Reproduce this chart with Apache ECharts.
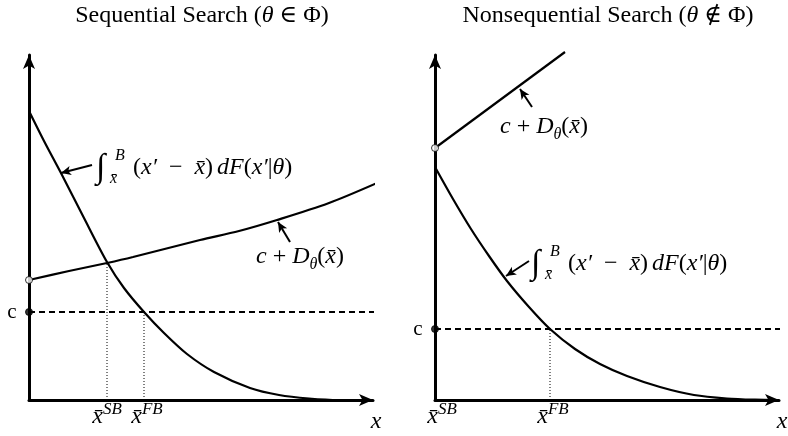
<!DOCTYPE html>
<html>
<head>
<meta charset="utf-8">
<script src="https://cdn.jsdelivr.net/npm/echarts@6/dist/echarts.min.js"></script>
<style>
  html, body { margin: 0; background: #fff; }
  #chart { width: 788px; height: 436px; }
</style>
</head>
<body>
<div id="chart"></div>
<script>
// values, in axis units (origin = where the axes meet)
const seqIntegral = [[0,289],[15,259],[33,225],[55,182],[78,138],[95,112],[115,88],[135,67],[158,46],[185,28],[221,12],[250,5],[280,1.5],[310,0],[344,0]];
const seqCost = [[0,120],[40,129],[78,137],[104,143],[171,160],[210,169],[248,180],[300,197],[348,217]];
const nonseqIntegral = [[0,233],[18,201],[36,171],[54,144],[72,119],[94,93],[115,71],[140,51],[165,36],[192,24],[225,13],[259,5],[292,1.5],[320,0.3],[344,0]];
const nonseqCost = [[0,252],[130,348]];
const cLevel = [88, 71];
const xSB = [78, 0];
const xFB = [115, 115];
const cLineEnd = 348;

const serif = '"Liberation Serif", "DejaVu Serif", serif';

const chart = echarts.init(document.getElementById('chart'));

function axisPair(i) {
  return {
    x: {
      type: 'value', gridIndex: i, min: 0, max: 344,
      axisLine: { show: true, lineStyle: { color: '#000', width: 3 }, symbol: ['none', 'arrow'], symbolSize: [9, 14] },
      axisTick: { show: false }, axisLabel: { show: false }, splitLine: { show: false }
    },
    y: {
      type: 'value', gridIndex: i, min: 0, max: 345,
      axisLine: { show: true, lineStyle: { color: '#000', width: 3 }, symbol: ['none', 'arrow'], symbolSize: [9, 14] },
      axisTick: { show: false }, axisLabel: { show: false }, splitLine: { show: false }
    }
  };
}

function curve(i, data) {
  return {
    type: 'line', xAxisIndex: i, yAxisIndex: i, data: data, smooth: 0.3,
    showSymbol: false, clip: false, silent: true,
    lineStyle: { color: '#000', width: 2.2 }
  };
}

function guide(i, data, type, width) {
  return {
    type: 'line', xAxisIndex: i, yAxisIndex: i, data: data, showSymbol: false, clip: false, silent: true,
    lineStyle: { color: '#000', width: width, type: type }
  };
}

function arrow(i, from, to) {
  return {
    type: 'line', xAxisIndex: i, yAxisIndex: i, data: [], silent: true,
    markLine: {
      silent: true, animation: false, label: { show: false },
      lineStyle: { color: '#000', width: 2, type: 'solid' },
      symbolSize: [7, 10],
      data: [[{ coord: from, symbol: 'none' }, { coord: to, symbol: 'arrow' }]]
    }
  };
}

function dots(i, data, fill) {
  return {
    type: 'scatter', xAxisIndex: i, yAxisIndex: i, data: data, symbolSize: 7, silent: true, clip: false, z: 5,
    itemStyle: { color: fill, borderColor: '#000', borderWidth: 1 }
  };
}

const a0 = axisPair(0), a1 = axisPair(1);

chart.setOption({
  animation: false,
  grid: [
    { left: 29, top: 55, width: 344, height: 345 },
    { left: 435, top: 55, width: 344, height: 345 }
  ],
  xAxis: [a0.x, a1.x],
  yAxis: [a0.y, a1.y],
  series: [
    curve(0, seqIntegral),
    curve(0, seqCost),
    guide(0, [[0, cLevel[0]], [cLineEnd, cLevel[0]]], [6, 4], 2),
    guide(0, [[xSB[0], 0], [xSB[0], seqCost[2][1]]], [1, 2], 1),
    guide(0, [[xFB[0], 0], [xFB[0], cLevel[0]]], [1, 2], 1),
    dots(0, [[0, seqCost[0][1]]], '#fff'),
    dots(0, [[0, cLevel[0]]], '#000'),
    arrow(0, [63, 235], [32, 227]),
    arrow(0, [261, 158], [249, 178]),

    curve(1, nonseqIntegral),
    curve(1, nonseqCost),
    guide(1, [[0, cLevel[1]], [cLineEnd, cLevel[1]]], [6, 4], 2),
    guide(1, [[xFB[1], 0], [xFB[1], cLevel[1]]], [1, 2], 1),
    dots(1, [[0, nonseqCost[0][1]]], '#fff'),
    dots(1, [[0, cLevel[1]]], '#000'),
    arrow(1, [97, 293], [85, 311]),
    arrow(1, [94, 139], [71, 124])
  ]
});

// text labels, placed through the axes
const rich = {
  n: { fontFamily: serif, fontSize: 24, fill: '#000', lineHeight: 32 },
  t: { fontFamily: serif, fontSize: 24, fill: '#000', lineHeight: 32 },
  i: { fontFamily: serif, fontSize: 24, fontStyle: 'italic', fill: '#000', lineHeight: 32 },
  sub: { fontFamily: serif, fontSize: 16, fontStyle: 'italic', fill: '#000', lineHeight: 32, verticalAlign: 'bottom' },
  sup: { fontFamily: serif, fontSize: 17, fontStyle: 'italic', fill: '#000', lineHeight: 32, verticalAlign: 'top' },
  c: { fontFamily: serif, fontSize: 21, fill: '#000', lineHeight: 28 }
};

function px(i, p) { return chart.convertToPixel({ gridIndex: i }, p); }

function txt(x, y, text, align, vAlign) {
  return { type: 'text', z: 10, silent: true, style: { x: x, y: y, text: text, rich: rich, align: align || 'center', verticalAlign: vAlign || 'middle', fill: '#000' } };
}

function integralLabel(i, anchor) {
  const p = px(i, anchor);
  return [
    { type: 'text', z: 10, silent: true, style: { x: p[0] - 2, y: p[1] + 1, text: '\u222B', font: '34px ' + serif, fill: '#000', align: 'left', verticalAlign: 'middle' } },
    { type: 'text', z: 10, silent: true, style: { x: p[0] + 17, y: p[1] - 11, text: 'B', font: 'italic 16px ' + serif, fill: '#000', align: 'left', verticalAlign: 'middle' } },
    { type: 'text', z: 10, silent: true, style: { x: p[0] + 12, y: p[1] + 12, text: 'x\u0304', font: 'italic 16px ' + serif, fill: '#000', align: 'left', verticalAlign: 'middle' } },
    txt(p[0] + 35, p[1] + 1, '{n|(}{i|x\u2032}{n|\u2002\u2212\u2002}{i|x\u0304}{n|)\u2006}{i|dF}{n|(}{i|x\u2032}{n||}{i|\u03B8}{n|)}', 'left')
  ];
}

const costText = '{i|c}{n|\u2005+\u2005}{i|D}{sub|\u03B8}{n|(}{i|x\u0304}{n|)}';
const graphics = [
  txt(202, 16, '{t|Sequential Search (}{i|\u03B8}{t| \u2208 \u03A6)}'),
  txt(608, 16, '{t|Nonsequential Search (}{i|\u03B8}{t| \u2209 \u03A6)}')
];

[0, 1].forEach(function (i) {
  const c = px(i, [0, cLevel[i]]);
  graphics.push(txt(c[0] - 17, c[1], '{c|c}', 'center'));
  const sb = px(i, [xSB[i], 0]);
  graphics.push(txt(sb[0] + (i === 1 ? 7 : 0), sb[1] + 17, '{i|x\u0304}{sup|SB}'));
  const fb = px(i, [xFB[i], 0]);
  graphics.push(txt(fb[0] + 3, fb[1] + 17, '{i|x\u0304}{sup|FB}'));
  const xe = px(i, [344, 0]);
  graphics.push(txt(xe[0] + 3, xe[1] + 22, '{i|x}'));
});

const cl0 = px(0, [271, 143]);
graphics.push(txt(cl0[0], cl0[1], costText));
const cl1 = px(1, [109, 273]);
graphics.push(txt(cl1[0], cl1[1], costText));
integralLabel(0, [69, 233]).forEach(function (g) { graphics.push(g); });
integralLabel(1, [98, 137]).forEach(function (g) { graphics.push(g); });

chart.setOption({ graphic: graphics });
</script>
</body>
</html>
